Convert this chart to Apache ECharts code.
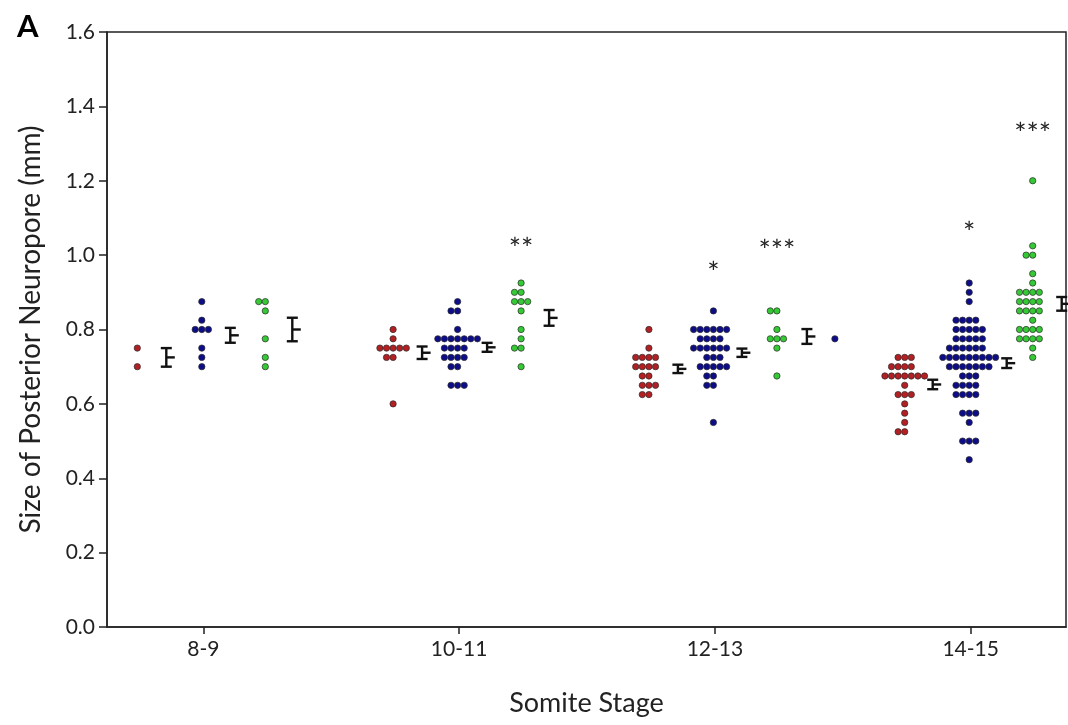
<!DOCTYPE html>
<html><head><meta charset="utf-8">
<script src="https://cdn.jsdelivr.net/npm/echarts@6/dist/echarts.min.js"></script>
<style>html,body{margin:0;padding:0;background:#fff}#c{width:1068px;height:725px}</style>
</head><body><div id="c"></div>
<script>
// ---------- data (mm), one entry per embryo ----------
const stages = ['8-9', '10-11', '12-13', '14-15'];
const yTickValues = [0, 0.2, 0.4, 0.6, 0.8, 1.0, 1.2, 1.4, 1.6];

const redValues = [
  [0.75, 0.70],
  [0.80, 0.775, 0.75, 0.75, 0.75, 0.75, 0.75, 0.725, 0.725, 0.60],
  [0.80, 0.75, 0.725, 0.725, 0.725, 0.725, 0.70, 0.70, 0.70, 0.70,
   0.675, 0.675, 0.65, 0.65, 0.65, 0.625, 0.625],
  [0.725, 0.725, 0.725, 0.70, 0.70, 0.70, 0.70,
   0.675, 0.675, 0.675, 0.675, 0.675, 0.675, 0.675,
   0.65, 0.625, 0.625, 0.625, 0.60, 0.575, 0.55, 0.525, 0.525]
];
const blueValues = [
  [0.875, 0.825, 0.80, 0.80, 0.80, 0.75, 0.725, 0.70],
  [0.875, 0.85, 0.85, 0.80, 0.775, 0.775, 0.775, 0.775, 0.775, 0.775, 0.775,
   0.75, 0.75, 0.75, 0.75, 0.725, 0.725, 0.725, 0.725, 0.70, 0.70,
   0.65, 0.65, 0.65],
  [0.85, 0.80, 0.80, 0.80, 0.80, 0.80, 0.80, 0.775, 0.775, 0.775, 0.775,
   0.75, 0.75, 0.75, 0.75, 0.75, 0.75, 0.725, 0.725, 0.725,
   0.70, 0.70, 0.70, 0.70, 0.70, 0.675, 0.675, 0.65, 0.65, 0.55],
  [0.925, 0.90, 0.875, 0.825, 0.825, 0.825, 0.825,
   0.80, 0.80, 0.80, 0.80, 0.80, 0.775, 0.775, 0.775, 0.775, 0.775,
   0.75, 0.75, 0.75, 0.75, 0.75, 0.75,
   0.725, 0.725, 0.725, 0.725, 0.725, 0.725, 0.725, 0.725, 0.725,
   0.70, 0.70, 0.70, 0.70, 0.70, 0.70, 0.70,
   0.675, 0.675, 0.675, 0.65, 0.65, 0.65, 0.65, 0.625, 0.625, 0.625, 0.625,
   0.575, 0.575, 0.575, 0.55, 0.50, 0.50, 0.50, 0.45]
];
const greenValues = [
  [0.875, 0.875, 0.85, 0.775, 0.725, 0.70],
  [0.925, 0.90, 0.90, 0.875, 0.875, 0.875, 0.85, 0.80, 0.775, 0.75, 0.75, 0.70],
  [0.85, 0.85, 0.80, 0.775, 0.775, 0.775, 0.75, 0.675],
  [1.20, 1.025, 1.00, 1.00, 0.95, 0.925, 0.90, 0.90, 0.90, 0.90,
   0.875, 0.875, 0.875, 0.875, 0.85, 0.85, 0.85, 0.85, 0.825,
   0.80, 0.80, 0.80, 0.80, 0.775, 0.775, 0.775, 0.775, 0.75, 0.725]
];
// stray blue point drawn right of the 12-13 green group
const strayBlueStage = [2];
const strayBlueValue = [0.775];

// significance marks
const sigStage = [1, 2, 2, 3, 3];
const sigGroup = ['green', 'blue', 'green', 'blue', 'green'];
const sigText  = ['**', '*', '***', '*', '***'];
const sigY     = [1.034, 0.970, 1.028, 1.077, 1.342];

// ---------- layout (pixels) ----------
const PX_PER_UNIT = 255.8;
const DOT_STEP = 6.6;
const GROUP_OFFSET = { red: -66, blue: -1.5, green: 62 };
const ERR_OFFSET = { red: [-37, -37, -37, -38], blue: [27, 28, 27, 36], green: [89, 90, 92, 91] };
const STRAY_OFFSET = 120;
const COLORS = { red: '#b32024', blue: '#0d0d8a', green: '#36c936' };
const FONT = 'Lato, "Open Sans", sans-serif';

function swarm(valuesByStage, group) {
  const pts = [];
  valuesByStage.forEach((vals, si) => {
    const rows = new Map();
    vals.forEach(v => { const k = v.toFixed(3); rows.set(k, (rows.get(k) || 0) + 1); });
    rows.forEach((n, key) => {
      const start = -Math.floor(n / 2);
      for (let k = start; k < start + n; k++) {
        pts.push([si + (GROUP_OFFSET[group] + k * DOT_STEP) / PX_PER_UNIT, parseFloat(key)]);
      }
    });
  });
  return pts;
}
function stats(vals) {
  const n = vals.length;
  const m = vals.reduce((a, b) => a + b, 0) / n;
  const sd = Math.sqrt(vals.reduce((a, b) => a + (b - m) * (b - m), 0) / (n - 1));
  return [m, sd / Math.sqrt(n)];
}
const errData = [];
[['red', redValues], ['blue', blueValues], ['green', greenValues]].forEach(([g, arr]) => {
  arr.forEach((vals, si) => {
    const [m, s] = stats(vals);
    errData.push([si + ERR_OFFSET[g][si] / PX_PER_UNIT, m, s]);
  });
});
const blueDots = swarm(blueValues, 'blue');
strayBlueStage.forEach((s, i) => blueDots.push([s + STRAY_OFFSET / PX_PER_UNIT, strayBlueValue[i]]));
const sigData = sigStage.map((s, i) => [s + GROUP_OFFSET[sigGroup[i]] / PX_PER_UNIT, sigY[i], i]);

const xMin = -(203.3 - 107) / PX_PER_UNIT;
const xMax = 3 + (1066 - 970.7) / PX_PER_UNIT;

function dotSeries(name, data) {
  return {
    name, type: 'scatter', data, symbol: 'circle', symbolSize: 6.3, z: 3,
    itemStyle: { color: COLORS[name], borderColor: '#2a2a2a', borderWidth: 0.7, opacity: 1 },
    emphasis: { disabled: true }, animation: false
  };
}

const chart = echarts.init(document.getElementById('c'), null, { renderer: 'canvas' });
chart.setOption({
  backgroundColor: '#fff',
  animation: false,
  textStyle: { fontFamily: FONT },
  grid: { left: 107, right: 2, top: 32, bottom: 98, containLabel: false,
          show: true, borderColor: '#222', borderWidth: 1.5, backgroundColor: 'transparent' },
  graphic: [{ type: 'text', left: 17, top: 11,
              style: { text: 'A', font: 'bold 31px ' + FONT, fill: '#000' } }],
  xAxis: {
    type: 'value', min: xMin, max: xMax,
    name: 'Somite Stage', nameLocation: 'middle', nameGap: 63,
    nameTextStyle: { fontSize: 27, color: '#222', fontFamily: FONT },
    axisLine: { show: true, onZero: false, lineStyle: { color: '#222', width: 1.5 } },
    axisTick: { show: true, customValues: [0, 1, 2, 3], length: 7, lineStyle: { color: '#222', width: 1.5 } },
    axisLabel: { customValues: [0, 1, 2, 3], formatter: v => stages[Math.round(v)],
                 fontSize: 21, color: '#222', margin: 12, fontFamily: FONT },
    splitLine: { show: false }
  },
  yAxis: {
    type: 'value', min: 0, max: 1.6, interval: 0.2,
    name: 'Size of Posterior Neuropore (mm)', nameLocation: 'middle', nameGap: 62,
    nameTextStyle: { fontSize: 28, color: '#222', fontFamily: FONT },
    axisLine: { show: true, onZero: false, lineStyle: { color: '#222', width: 1.5 } },
    axisTick: { show: true, length: 8, lineStyle: { color: '#222', width: 1.5 } },
    axisLabel: { formatter: v => yTickValues.includes(Math.round(v * 10) / 10) ? v.toFixed(1) : '',
                 fontSize: 21, color: '#222', margin: 12, fontFamily: FONT },
    splitLine: { show: false }
  },
  series: [
    dotSeries('red', swarm(redValues, 'red')),
    dotSeries('blue', blueDots),
    dotSeries('green', swarm(greenValues, 'green')),
    {
      type: 'custom', name: 'mean ± SEM', data: errData, clip: false, z: 4,
      renderItem: (params, api) => {
        const x = api.value(0), m = api.value(1), s = api.value(2);
        const c = api.coord([x, m]), t = api.coord([x, m + s]), b = api.coord([x, m - s]);
        const st = { stroke: '#111', lineWidth: 2.4 };
        return { type: 'group', children: [
          { type: 'line', shape: { x1: c[0], y1: t[1], x2: c[0], y2: b[1] }, style: st },
          { type: 'line', shape: { x1: c[0] - 5.5, y1: t[1], x2: c[0] + 5.5, y2: t[1] }, style: st },
          { type: 'line', shape: { x1: c[0] - 5.5, y1: b[1], x2: c[0] + 5.5, y2: b[1] }, style: st },
          { type: 'line', shape: { x1: c[0], y1: c[1], x2: c[0] + 8.5, y2: c[1] }, style: st }
        ]};
      }
    },
    {
      type: 'custom', name: 'significance', data: sigData, z: 5,
      renderItem: (params, api) => {
        const p = api.coord([api.value(0), api.value(1)]);
        return { type: 'text', x: p[0], y: p[1] + 7,
                 style: { text: sigText[api.value(2)], font: '29px ' + FONT, fill: '#222',
                          align: 'center', verticalAlign: 'middle' } };
      }
    }
  ]
});
</script></body></html>
